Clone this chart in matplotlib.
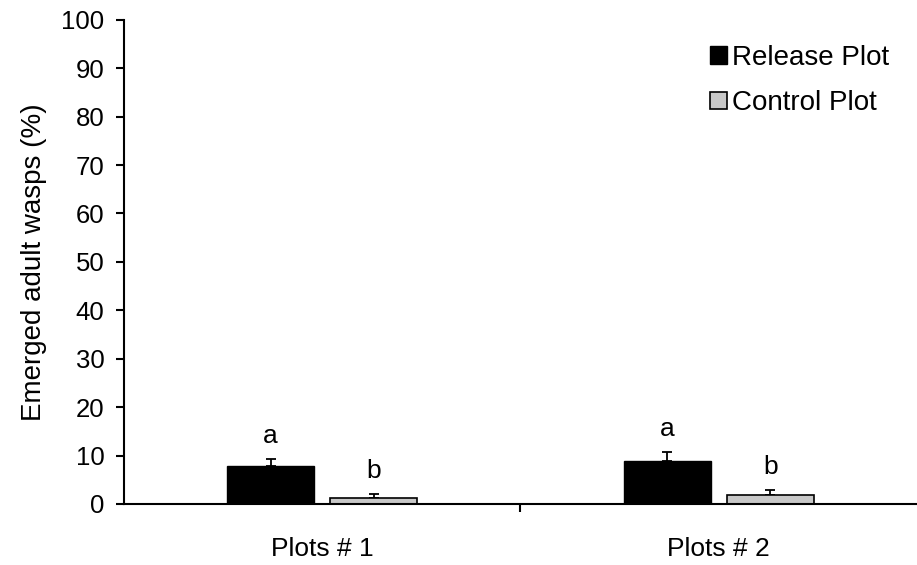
import matplotlib.pyplot as plt
import numpy as np

plt.rcParams['font.family'] = ['Liberation Sans', 'DejaVu Sans']

# data
groups = ["Plots # 1", "Plots # 2"]
release = [7.9, 8.9]
release_err = [1.3, 1.9]
control = [1.2, 1.9]
control_err = [0.9, 1.0]
release_letters = ["a", "a"]
control_letters = ["b", "b"]

fig = plt.figure(figsize=(9.17, 5.65), dpi=100)
ax = fig.add_axes([0.135, 0.108, 0.865, 0.857])

x = np.arange(len(groups))
w = 0.22
off = 0.13

ax.bar(x - off, release, w, color="black", edgecolor="black", linewidth=1,
       label="Release Plot", zorder=2)
ax.bar(x + off, control, w, color="#c8c8c8", edgecolor="black", linewidth=1.2,
       label="Control Plot", zorder=2)

# one-sided error bars (upper only)
ax.errorbar(x - off, release, yerr=[np.zeros(2), release_err], fmt="none",
            ecolor="black", elinewidth=1.3, capsize=3.5, capthick=1.3, zorder=1)
ax.errorbar(x + off, control, yerr=[np.zeros(2), control_err], fmt="none",
            ecolor="black", elinewidth=1.3, capsize=3.5, capthick=1.3, zorder=1)

# significance letters
for i in range(len(groups)):
    ax.text(x[i] - off, release[i] + release_err[i] + 2.3, release_letters[i],
            ha="center", va="bottom", fontsize=19)
    ax.text(x[i] + off, control[i] + control_err[i] + 2.3, control_letters[i],
            ha="center", va="bottom", fontsize=19)

ax.set_xlim(-0.5, 1.5)
ax.set_ylim(0, 100)
ax.set_yticks(range(0, 101, 10))
ax.set_xticks(x)
ax.set_xticklabels(groups, fontsize=19)
ax.set_xticks([0.5], minor=True)
ax.tick_params(axis="x", which="major", length=0, pad=24)
ax.tick_params(axis="x", which="minor", length=6, width=1.5)
ax.tick_params(axis="y", labelsize=18.5, length=6, width=1.5, pad=8)

ax.set_ylabel("Emerged adult wasps (%)", fontsize=20, labelpad=10)

for s in ["top", "right"]:
    ax.spines[s].set_visible(False)
ax.spines["left"].set_linewidth(1.5)
ax.spines["bottom"].set_linewidth(1.5)

ax.legend(loc="upper right", bbox_to_anchor=(0.997, 1.0), frameon=False,
          fontsize=20, handlelength=0.6, handleheight=0.6, handletextpad=0.2,
          labelspacing=0.7)

fig.savefig("out.png", dpi=100)
